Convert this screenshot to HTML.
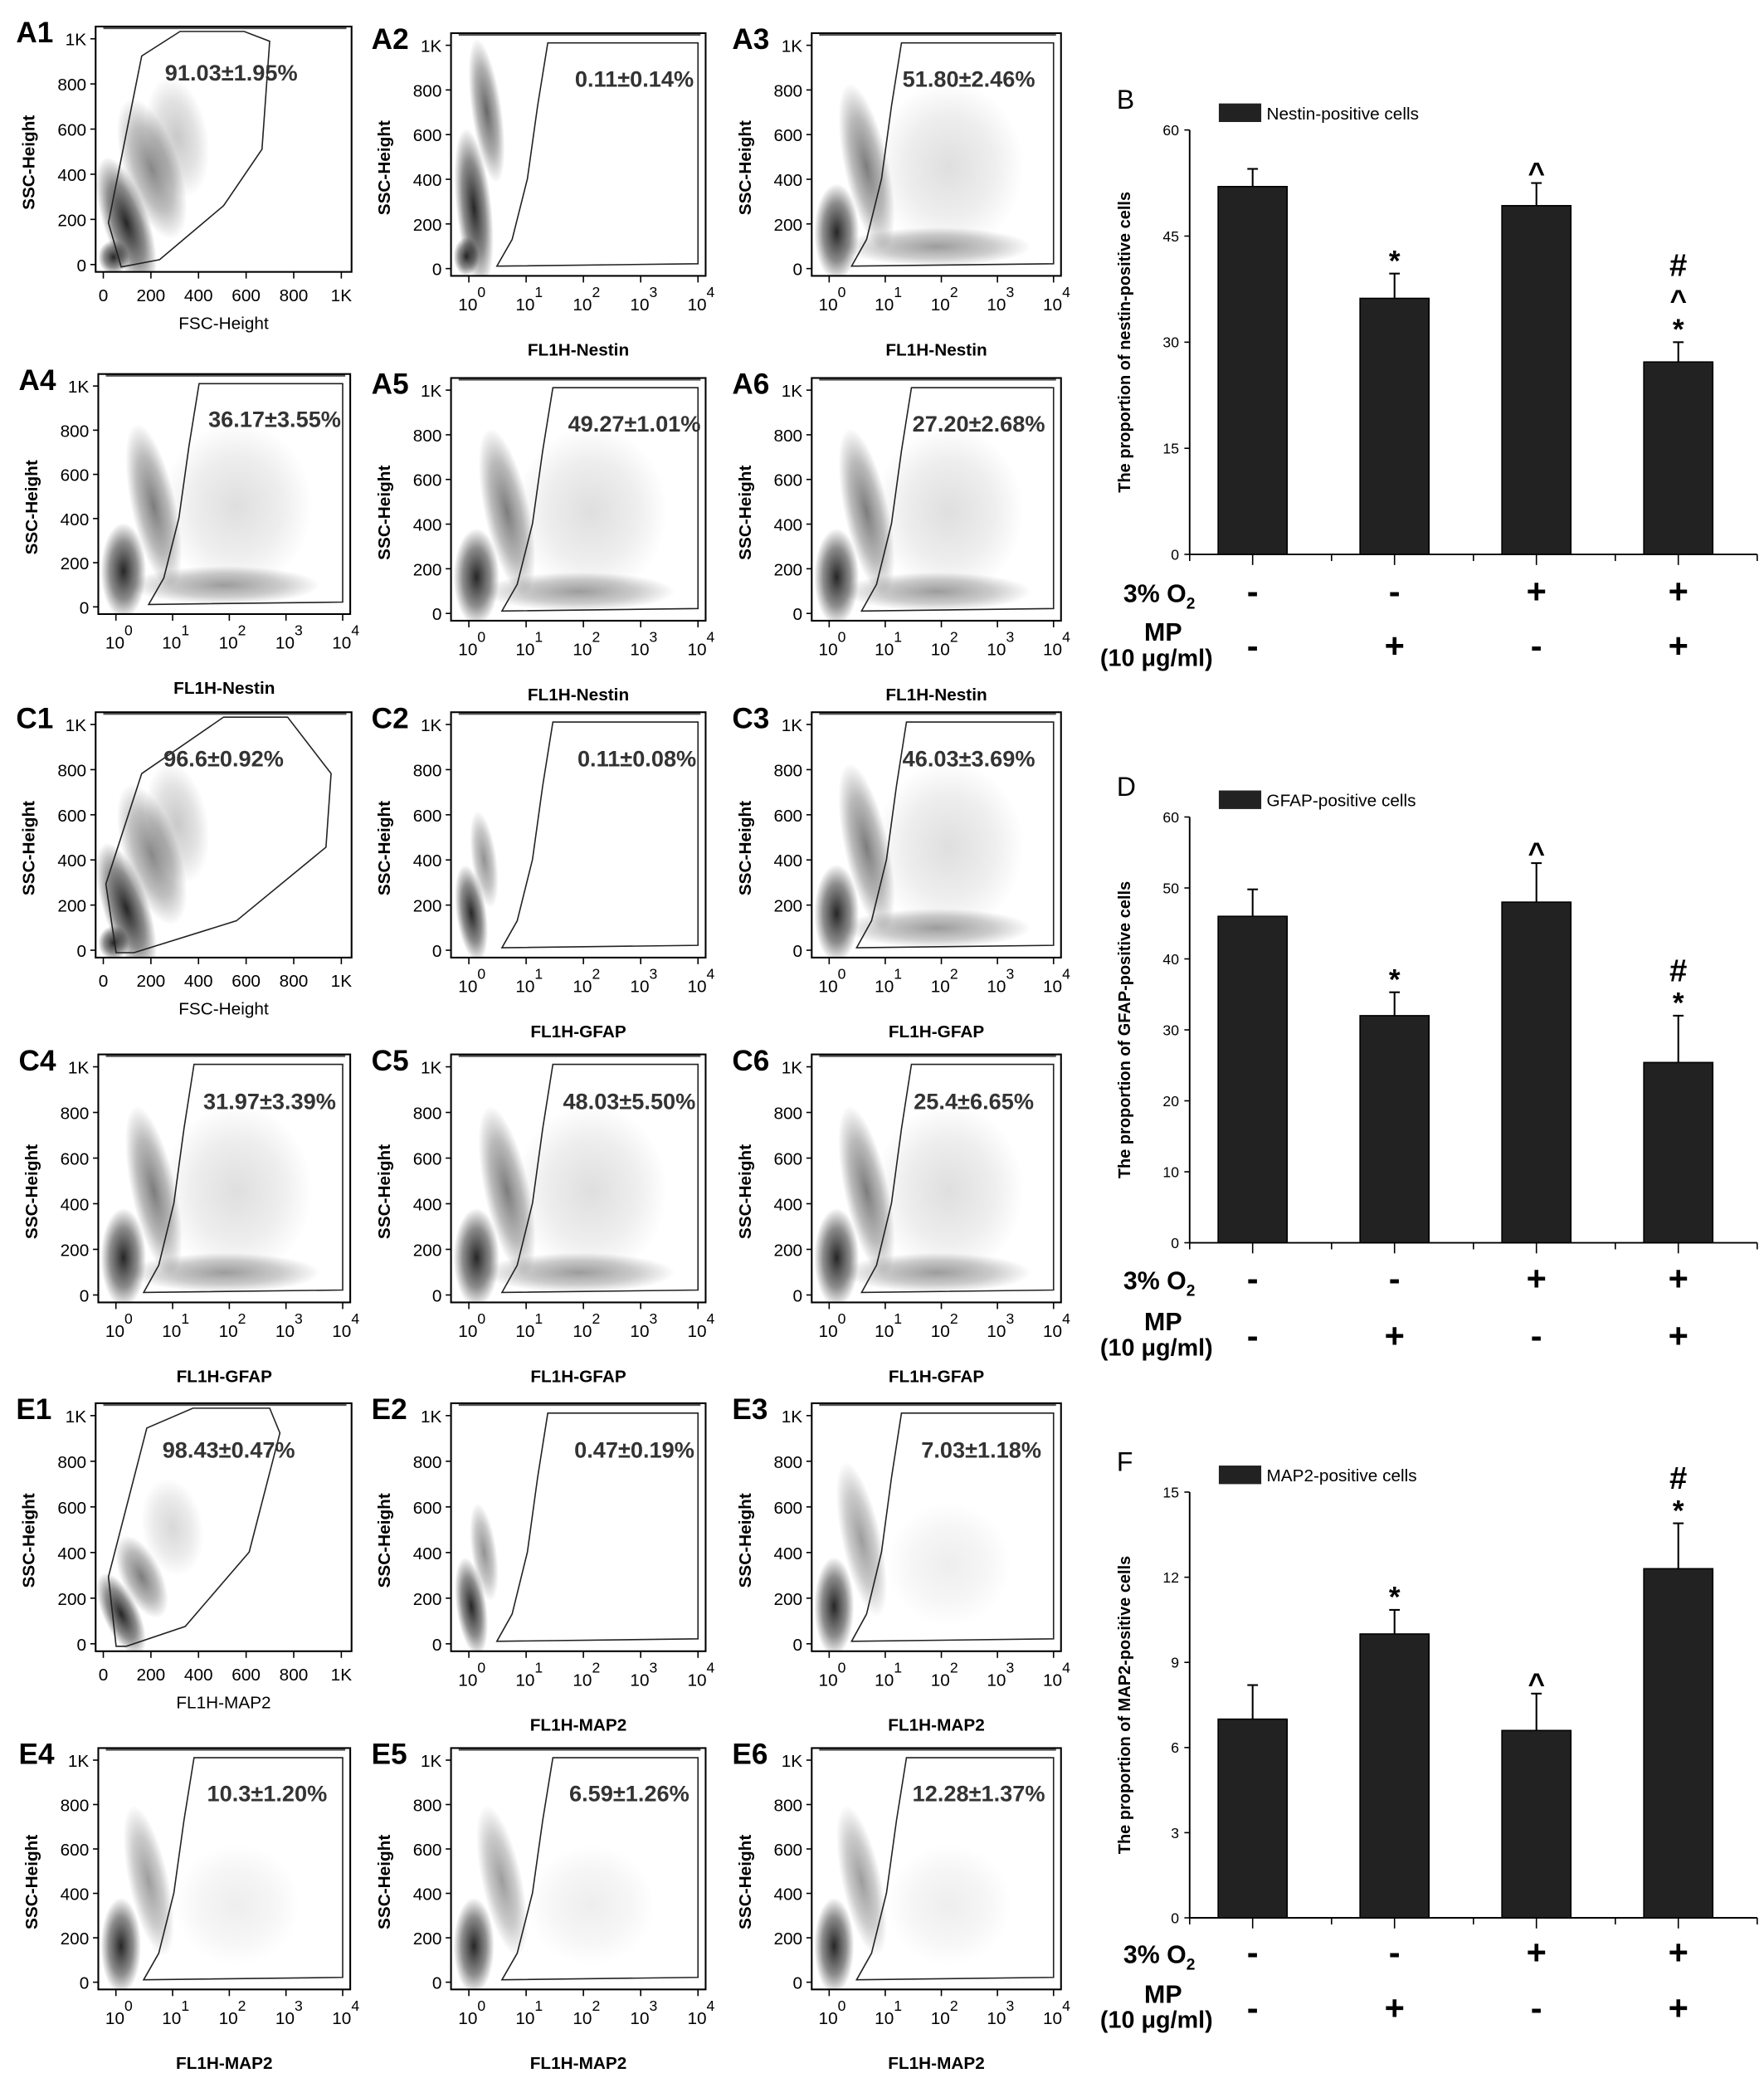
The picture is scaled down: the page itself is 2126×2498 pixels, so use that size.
<!DOCTYPE html>
<html><head><meta charset="utf-8">
<style>
html,body{margin:0;padding:0;background:#fff}
svg{display:block}
text{font-family:"Liberation Sans",Arial,sans-serif}
</style></head>
<body>
<svg id="fig" xmlns="http://www.w3.org/2000/svg" width="2126" height="2498" viewBox="0 0 1330 1563">
<defs>
<radialGradient id="dens"><stop offset="0" stop-color="#000" stop-opacity="0.85"/><stop offset="0.6" stop-color="#000" stop-opacity="0.45"/><stop offset="1" stop-color="#000" stop-opacity="0"/></radialGradient>
</defs>
<g id="root"></g>
</svg>
<script>
// ---- bar chart data ----
const groups = ["1","2","3","4"];
const nestinValues = [52, 36.2, 49.3, 27.2];
const nestinErrors = [2.5, 3.5, 3.2, 2.8];
const gfapValues = [46, 32, 48, 25.4];
const gfapErrors = [3.8, 3.3, 5.5, 6.6];
const map2Values = [7, 10, 6.6, 12.3];
const map2Errors = [1.2, 0.85, 1.3, 1.6];
const nestinTicks = [0, 15, 30, 45, 60];
const gfapTicks = [0, 10, 20, 30, 40, 50, 60];
const map2Ticks = [0, 3, 6, 9, 12, 15];
const o2Signs = ["-", "-", "+", "+"];
const mpSigns = ["-", "+", "-", "+"];
const nestinMarks = ["", "*", "^", "*^#"];
const gfapMarks = ["", "*", "^", "*#"];
const map2Marks = ["", "*", "^", "*#"];

const NS = "http://www.w3.org/2000/svg";
const root = document.getElementById('root');
function el(tag, attrs, parent, txt) {
  const e = document.createElementNS(NS, tag);
  for (const k in attrs) e.setAttribute(k, attrs[k]);
  if (txt !== undefined) e.textContent = txt;
  (parent || root).appendChild(e);
  return e;
}

function barChart(letter, legendText, ytitle, values, errors, ticks, marks, top, bottom, x0, x1, rowY1, rowY2) {
  const g = el('g', {});
  
  
  const ymax = ticks[ticks.length - 1];
  const yS = v => bottom - (v / ymax) * (bottom - top);
  const bw = (x1 - x0) / groups.length;
  const xC = i => x0 + bw * (i + 0.5) - 6;
  const lab = el('text', {x: x0 - 55, y: top - 16, 'font-size': 20}, g, letter);
  
  
  const lg = el('rect', {x: x0 + 22, y: top - 20, width: 32, height: 14, fill: '#222'}, g);
  
  
  const lt = el('text', {x: x0 + 58, y: top - 8, 'font-size': 13}, g, legendText);
  
  
  el('line', {x1: x0, y1: top, x2: x0, y2: bottom, stroke: '#000', 'stroke-width': 1.2}, g);
  el('line', {x1: x0, y1: bottom, x2: x1, y2: bottom, stroke: '#000', 'stroke-width': 1.2}, g);
  ticks.forEach(t => {
    el('line', {x1: x0 - 4, y1: yS(t), x2: x0, y2: yS(t), stroke: '#000'}, g);
    const tl = el('text', {x: x0 - 8, y: yS(t) + 4, 'font-size': 11, 'text-anchor': 'end'}, g, t);
    
    
  });
  for (let i = 0; i <= groups.length; i++) el('line', {x1: x0 + bw * i, y1: bottom, x2: x0 + bw * i, y2: bottom + 5, stroke: '#000'}, g);
  const yt = el('text', {transform: `translate(${x0 - 45},${(top + bottom) / 2}) rotate(-90)`, 'font-size': 12.5, 'font-weight': 'bold', 'text-anchor': 'middle'}, g, ytitle);
  
  
  values.forEach((v, i) => {
    const cx = xC(i);
    el('line', {x1: cx, y1: yS(v), x2: cx, y2: yS(v + errors[i]), stroke: '#000', 'stroke-width': 1.3}, g);
    el('line', {x1: cx - 4, y1: yS(v + errors[i]), x2: cx + 4, y2: yS(v + errors[i]), stroke: '#000', 'stroke-width': 1.3}, g);
    const b = el('rect', {x: cx - 26, y: yS(v), width: 52, height: bottom - yS(v), fill: '#222', stroke: '#000'}, g);
    
    
    el('line', {x1: cx, y1: bottom, x2: cx, y2: bottom + 8, stroke: '#000'}, g);
    const m = marks[i];
    let my = yS(v + errors[i]) - 12;
    for (const ch of m) {
      const t = el('text', {x: cx, y: ch === '^' ? my + 12 : my + 10, 'font-size': ch === '#' ? 24 : 22, 'font-weight': 'bold', 'text-anchor': 'middle'}, g, ch);
      
      
      my -= 24;
    }
    const s1 = el('text', {x: cx, y: rowY1 + 8, 'font-size': 26, 'font-weight': 'bold', 'text-anchor': 'middle'}, g, o2Signs[i]);
    
    
    const s2 = el('text', {x: cx, y: rowY2 + 8, 'font-size': 26, 'font-weight': 'bold', 'text-anchor': 'middle'}, g, mpSigns[i]);
    
    
  });
  const r1 = el('text', {x: x0 - 50, y: rowY1 + 7, 'font-size': 19, 'font-weight': 'bold'}, g);
  
  
  el('tspan', {}, r1, '3% O');
  el('tspan', {'font-size': 12, dy: 5}, r1, '2');
  const r2 = el('text', {x: x0 - 20, y: rowY2 - 5, 'font-size': 19, 'font-weight': 'bold', 'text-anchor': 'middle'}, g, 'MP');
  
  
  const r3 = el('text', {x: x0 - 25, y: rowY2 + 14, 'font-size': 18, 'font-weight': 'bold', 'text-anchor': 'middle'}, g, '(10 μg/ml)');
  
  
}

barChart('B', 'Nestin-positive cells', 'The proportion of nestin-positive cells', nestinValues, nestinErrors, nestinTicks, nestinMarks, 98, 418, 897, 1325, 447, 488);
barChart('D', 'GFAP-positive cells', 'The proportion of GFAP-positive cells', gfapValues, gfapErrors, gfapTicks, gfapMarks, 616, 937, 897, 1325, 965, 1008);
barChart('F', 'MAP2-positive cells', 'The proportion of MAP2-positive cells', map2Values, map2Errors, map2Ticks, map2Marks, 1125, 1446, 897, 1325, 1473, 1515);

// ---- flow cytometry panels ----
const blobSets = {
  fsc: [[.12,.2,.09,.28,-18,1],[.22,.42,.11,.3,-18,.55],[.07,.06,.06,.07,0,1],[.32,.55,.12,.25,-10,.25]],
  neg: [[.09,.28,.07,.33,-6,1],[.14,.68,.06,.3,-8,.7],[.06,.08,.05,.08,0,1]],
  pos: [[.1,.18,.09,.2,0,1],[.22,.45,.09,.35,-12,.6],[.5,.12,.38,.08,0,.45],[.55,.45,.3,.35,0,.15]],
  posm: [[.09,.18,.08,.2,0,1],[.2,.45,.08,.32,-12,.45],[.55,.35,.25,.25,0,.08]],
  negm: [[.08,.18,.06,.2,-8,1],[.13,.4,.05,.2,-8,.5]],
  fscm: [[.1,.15,.07,.18,-25,1],[.18,.3,.08,.18,-25,.6],[.3,.5,.12,.2,-10,.18]]
};
const fscGates = {
  A: [[.1,.02],[.05,.2],[.18,.88],[.33,.98],[.58,.98],[.68,.94],[.65,.5],[.5,.27],[.25,.05]],
  C: [[.08,.02],[.04,.3],[.18,.75],[.5,.98],[.75,.98],[.92,.75],[.9,.45],[.55,.15],[.15,.02]],
  E: [[.08,.02],[.05,.3],[.2,.9],[.38,.98],[.68,.98],[.72,.88],[.6,.4],[.35,.1],[.12,.02]]
};
const panels = [
  ['A1',72,20,265,205,'fsc','fsc','A','91.03±1.95%','FSC-Height',.53],
  ['A2',340,25,532,208,'neg','log',.38,'0.11±0.14%','FL1H-Nestin',.72],
  ['A3',612,25,800,208,'pos','log',.36,'51.80±2.46%','FL1H-Nestin',.63],
  ['A4',74,282,264,463,'pos','log',.4,'36.17±3.55%','FL1H-Nestin',.7],
  ['A5',340,285,532,468,'pos','log',.4,'49.27±1.01%','FL1H-Nestin',.72],
  ['A6',612,285,800,468,'pos','log',.4,'27.20±2.68%','FL1H-Nestin',.67],
  ['C1',72,537,265,722,'fsc','fsc','C','96.6±0.92%','FSC-Height',.5],
  ['C2',340,537,532,722,'negm','log',.4,'0.11±0.08%','FL1H-GFAP',.73],
  ['C3',612,537,800,722,'pos','log',.38,'46.03±3.69%','FL1H-GFAP',.63],
  ['C4',74,795,264,982,'pos','log',.38,'31.97±3.39%','FL1H-GFAP',.68],
  ['C5',340,795,532,982,'pos','log',.4,'48.03±5.50%','FL1H-GFAP',.7],
  ['C6',612,795,800,982,'pos','log',.4,'25.4±6.65%','FL1H-GFAP',.65],
  ['E1',72,1058,265,1245,'fscm','fsc','E','98.43±0.47%','FL1H-MAP2',.52],
  ['E2',340,1058,532,1245,'negm','log',.38,'0.47±0.19%','FL1H-MAP2',.72],
  ['E3',612,1058,800,1245,'posm','log',.36,'7.03±1.18%','FL1H-MAP2',.68],
  ['E4',74,1318,264,1500,'posm','log',.38,'10.3±1.20%','FL1H-MAP2',.67],
  ['E5',340,1318,532,1500,'posm','log',.4,'6.59±1.26%','FL1H-MAP2',.7],
  ['E6',612,1318,800,1500,'posm','log',.38,'12.28±1.37%','FL1H-MAP2',.67]
];
const yTickLabels = ['0','200','400','600','800','1K'];
const linTickLabels = ['0','200','400','600','800','1K'];
const logExps = ['0','1','2','3','4'];

panels.forEach(p => {
  const [name, x0, y0, x1, y1, blob, kind, gate, pct, xl, px] = p;
  const w = x1 - x0, h = y1 - y0;
  const X = f => x0 + f * w, Y = f => y1 - f * h;
  const g = el('g', {});
  
  
  const clip = 'clip' + name;
  const cp = el('clipPath', {id: clip}, g);
  el('rect', {x: x0, y: y0, width: w, height: h}, cp);
  const bg = el('g', {'clip-path': `url(#${clip})`}, g);
  blobSets[blob].forEach(b => {
    const e = el('ellipse', {cx: X(b[0]), cy: Y(b[1]), rx: b[2] * w, ry: b[3] * h, fill: 'url(#dens)', opacity: b[5], transform: `rotate(${b[4]} ${X(b[0])} ${Y(b[1])})`}, bg);
    
    
  });
  el('line', {x1: X(.03), y1: y0 + 1, x2: X(.98), y2: y0 + 1, stroke: '#555', 'stroke-width': 2}, bg);
  el('rect', {x: x0, y: y0, width: w, height: h, fill: 'none', stroke: '#000', 'stroke-width': 1.3}, g);
  let pts;
  if (kind === 'fsc') pts = fscGates[gate].map(q => X(q[0]) + ',' + Y(q[1])).join(' ');
  else {
    const gx = gate;
    pts = [[gx - .2, .04], [gx - .14, .15], [gx - .08, .4], [gx - .04, .7], [gx, .96], [.97, .96], [.97, .05]].map(q => X(q[0]) + ',' + Y(q[1])).join(' ');
  }
  const gp = el('polygon', {points: pts, fill: 'none', stroke: '#222', 'stroke-width': 1}, g);
  
  
  yTickLabels.forEach((t, i) => {
    const yy = Y(.03 + i * .184);
    el('line', {x1: x0 - 4, y1: yy, x2: x0, y2: yy, stroke: '#000'}, g);
    const tl = el('text', {x: x0 - 7, y: yy + 5, 'font-size': 13, 'text-anchor': 'end'}, g, t);
    
    
  });
  if (kind === 'fsc') {
    linTickLabels.forEach((t, i) => {
      const xx = X(.03 + i * .186);
      el('line', {x1: xx, y1: y1, x2: xx, y2: y1 + 5, stroke: '#000'}, g);
      const tl = el('text', {x: xx, y: y1 + 22, 'font-size': 13, 'text-anchor': 'middle'}, g, t);
      
      
    });
    const xt = el('text', {x: (x0 + x1) / 2, y: y1 + 43, 'font-size': 13, 'text-anchor': 'middle'}, g, xl);
    
    
  } else {
    logExps.forEach((t, i) => {
      const xx = X(.07 + i * .225);
      el('line', {x1: xx, y1: y1, x2: xx, y2: y1 + 5, stroke: '#000'}, g);
      const tl = el('text', {x: xx - 8, y: y1 + 26, 'font-size': 13}, g);
      
      
      el('tspan', {}, tl, '10');
      el('tspan', {'font-size': 11, dy: -10}, tl, t);
    });
    const xt = el('text', {x: (x0 + x1) / 2, y: y1 + 60, 'font-size': 13, 'font-weight': 'bold', 'text-anchor': 'middle'}, g, xl);
    
    
  }
  const yt = el('text', {transform: `translate(${x0 - 46},${(y0 + y1) / 2 + 10}) rotate(-90)`, 'font-size': 13, 'font-weight': 'bold', 'text-anchor': 'middle'}, g, 'SSC-Height');
  
  
  const pl = el('text', {x: x0 - 60, y: y0 + 12, 'font-size': 22, 'font-weight': 'bold', 'text-anchor': 'start'}, g, name);
  
  
  const pt = el('text', {x: X(px), y: Y(.78), 'font-size': 17, 'font-weight': 'bold', fill: '#333', 'text-anchor': 'middle'}, g, pct);
  
  
});
</script>
</body></html>
